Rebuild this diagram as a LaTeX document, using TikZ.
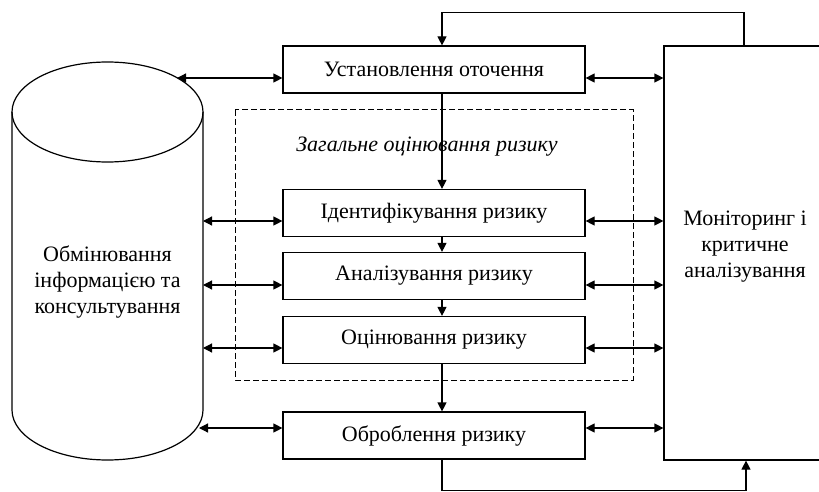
\documentclass[tikz,border=0pt]{standalone}
\usepackage{fontspec}
\setmainfont{Liberation Serif}
\usetikzlibrary{arrows.meta}

\begin{document}
\begin{tikzpicture}[x=1pt,y=-1pt,font=\rmfamily\fontsize{22}{26}\selectfont,
  stage/.style={draw,line width=1.2pt,minimum width=302,minimum height=47,inner sep=0pt},
  link/.style={line width=1.2pt,{Triangle[length=9pt,width=9pt]}-{Triangle[length=9pt,width=9pt]}},
  flow/.style={line width=1.2pt,-{Triangle[length=9pt,width=9pt]}}]

\useasboundingbox (0,0) rectangle (819,492);
\clip (0,0) rectangle (819,492);

% cylinder of consultation
\draw [line width=1.2pt] (107.5,112) ellipse [x radius=95.5,y radius=50];
\draw [line width=1.2pt] (12,112) -- (12,410) arc [start angle=180,end angle=0,x radius=95.5,y radius=50] -- (203,112);
\node (cyl) at (107.5,282) [align=center] {Обмінювання\\інформацією та\\консультування};

% general risk assessment frame
\draw [dashed,line width=1pt,dash pattern=on 6pt off 3pt] (235,110) rectangle (633,380);
\node (zag) at (427,147) [font=\rmfamily\fontsize{22}{26}\selectfont\itshape] {Загальне оцінювання ризику};

% process stages
\node [stage] (b1) at (434,69.5) {Установлення оточення};
\node [stage] (b2) at (434,213) {Ідентифікування ризику};
\node [stage] (b3) at (434,276) {Аналізування ризику};
\node [stage] (b4) at (434,340) {Оцінювання ризику};
\node [stage] (b5) at (434,435.5) {Оброблення ризику};

% monitoring
\node [draw,line width=1.2pt,minimum width=164,minimum height=414] (mon) at (746,253) {};
\node (mont) at (745,247) [align=center] {Моніторинг і\\критичне\\аналізування};

% links to both sides
\coordinate (c1) at (177,78);
\coordinate (c2) at (203,221);
\coordinate (c3) at (203,285);
\coordinate (c4) at (203,348);
\coordinate (c5) at (199,428);
\draw [link] (c1) -- (c1 -| b1.west);
\draw [link] (c2) -- (c2 -| b2.west);
\draw [link] (c3) -- (c3 -| b3.west);
\draw [link] (c4) -- (c4 -| b4.west);
\draw [link] (c5) -- (c5 -| b5.west);
\draw [link] (b1.east |- c1) -- (c1 -| mon.west);
\draw [link] (b2.east |- c2) -- (c2 -| mon.west);
\draw [link] (b3.east |- c3) -- (c3 -| mon.west);
\draw [link] (b4.east |- c4) -- (c4 -| mon.west);
\draw [link] (b5.east |- c5) -- (c5 -| mon.west);

% flow down the stages
\coordinate (v) at (442,0);
\draw [flow] (b1.south -| v) -- (b2.north -| v);
\draw [flow] (b2.south -| v) -- (b3.north -| v);
\draw [flow] (b3.south -| v) -- (b4.north -| v);
\draw [flow] (b4.south -| v) -- (b5.north -| v);

% feedback loops
\draw [flow] ([xshift=-2pt]mon.north) -- ++(0,-33) -| (b1.north -| v);
\draw [flow] (b5.south -| v) -- ++(0,31) -| (mon.south);

\end{tikzpicture}
\end{document}
